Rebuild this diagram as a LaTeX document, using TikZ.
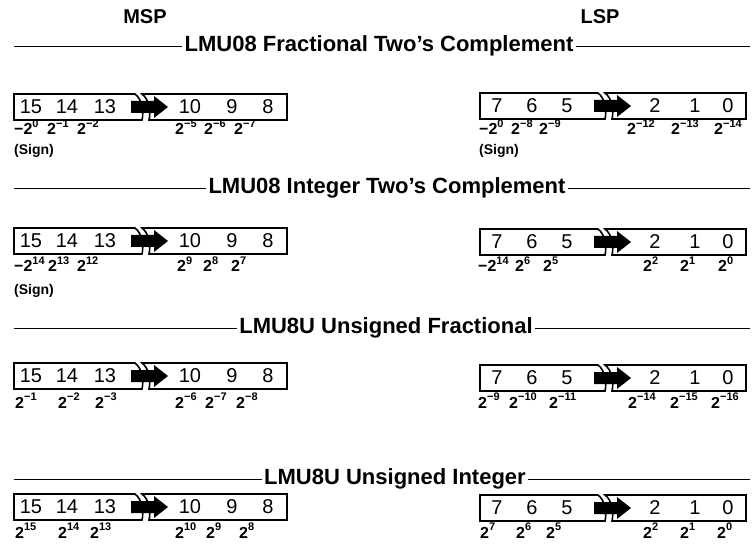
\documentclass[tikz,border=0pt]{standalone}
\usepackage{fontspec}
\setmainfont{Liberation Sans}

% power of two with raised exponent
\newcommand\pw[1]{2\raisebox{0.45em}{\fontsize{11}{11}\selectfont#1}}
% register outline: left, break, right, centre y
\newcommand\regbox[4]{%
  \draw[boxline] (#1,#4-13) -- (#2,#4-13) .. controls (#2+7,#4-8) and (#2+9,#4+5) .. (#2+7,#4+13) -- (#1,#4+13) -- cycle;
  \draw[boxline] (#3,#4-13) -- (#2+7,#4-13) .. controls (#2+14,#4-8) and (#2+16,#4+5) .. (#2+14,#4+13) -- (#3,#4+13) -- cycle;
  \fill (#2-4,#4-6) -- (#2+19,#4-6) -- (#2+19,#4-11) -- (#2+33,#4) -- (#2+19,#4+11) -- (#2+19,#4+6) -- (#2-4,#4+6) -- cycle;
}

\begin{document}
\begin{tikzpicture}[x=1pt, y=-1pt,
    bit/.style={font=\fontsize{20}{20}\selectfont, inner sep=0pt},
    wt/.style={font=\bfseries\fontsize{16}{16}\selectfont, anchor=base west, inner sep=0pt},
    sign/.style={font=\bfseries\fontsize{14}{14}\selectfont, anchor=base west, inner sep=0pt},
    head/.style={font=\bfseries\fontsize{20}{20}\selectfont, inner sep=2pt},
    title/.style={font=\bfseries\fontsize{22}{22}\selectfont, inner sep=2pt},
    rule/.style={line width=0.8pt},
    boxline/.style={line width=1.6pt},
    ]
    \useasboundingbox (0,0) rectangle (755,548);

    % Headers
    \node[head] (msp) at (145,17) {MSP};
    \node[head] (lsp) at (600,17) {LSP};

    % Section titles
    \node[title] (t1) at (379,46) {LMU08 Fractional Two's Complement};
    \node[title] (t2) at (387,188) {LMU08 Integer Two's Complement};
    \node[title] (t3) at (386,328) {LMU8U Unsigned Fractional};
    \node[title] (t4) at (395,479) {LMU8U Unsigned Integer};
    \foreach \t/\y in {1/46, 2/188, 3/328, 4/479} {
      \coordinate (l\t) at (14,\y);
      \coordinate (r\t) at (750,\y);
      \draw[rule] (l\t) -- (t\t.west);
      \draw[rule] (t\t.east) -- (r\t);
    }

    % Registers
    \foreach \r/\cy in {1/107, 2/241, 3/376, 4/507} {
      \regbox{14}{135}{287}{\cy}
      \foreach \d/\x in {15/31, 14/67, 13/105, 10/190, 9/232, 8/268}
        \node[bit] (m\r-\d) at (\x,\cy) {\d};
    }
    \foreach \r/\cy in {1/106, 2/242, 3/378, 4/508} {
      \regbox{480}{598}{746}{\cy}
      \foreach \d/\x in {7/497, 6/532, 5/567, 2/655, 1/695, 0/728}
        \node[bit] (l\r-\d) at (\x,\cy) {\d};
    }

    % Row 1: fractional two's complement
    \node[wt] (m1a) at (14,135) {−\pw{0}};
    \node[wt] (m1b) at (47,135) {\pw{−1}};
    \node[wt] (m1c) at (77,135) {\pw{−2}};
    \node[wt] (m1d) at (175,135) {\pw{−5}};
    \node[wt] (m1e) at (204,135) {\pw{−6}};
    \node[wt] (m1f) at (234,135) {\pw{−7}};
    \node[sign] (m1s) at (14,155) {(Sign)};
    \node[wt] (l1a) at (479,135) {−\pw{0}};
    \node[wt] (l1b) at (511,135) {\pw{−8}};
    \node[wt] (l1c) at (539,135) {\pw{−9}};
    \node[wt] (l1d) at (627,135) {\pw{−12}};
    \node[wt] (l1e) at (671,135) {\pw{−13}};
    \node[wt] (l1f) at (714,135) {\pw{−14}};
    \node[sign] (l1s) at (479,155) {(Sign)};

    % Row 2: integer two's complement
    \node[wt] (m2a) at (14,272) {−\pw{14}};
    \node[wt] (m2b) at (48,272) {\pw{13}};
    \node[wt] (m2c) at (77,272) {\pw{12}};
    \node[wt] (m2d) at (177,272) {\pw{9}};
    \node[wt] (m2e) at (203,272) {\pw{8}};
    \node[wt] (m2f) at (231,272) {\pw{7}};
    \node[sign] (m2s) at (14,294) {(Sign)};
    \node[wt] (l2a) at (478,272) {−\pw{14}};
    \node[wt] (l2b) at (515,272) {\pw{6}};
    \node[wt] (l2c) at (543,272) {\pw{5}};
    \node[wt] (l2d) at (643,272) {\pw{2}};
    \node[wt] (l2e) at (680,272) {\pw{1}};
    \node[wt] (l2f) at (718,272) {\pw{0}};

    % Row 3: unsigned fractional
    \node[wt] (m3a) at (15,408) {\pw{−1}};
    \node[wt] (m3b) at (58,408) {\pw{−2}};
    \node[wt] (m3c) at (95,408) {\pw{−3}};
    \node[wt] (m3d) at (175,408) {\pw{−6}};
    \node[wt] (m3e) at (205,408) {\pw{−7}};
    \node[wt] (m3f) at (236,408) {\pw{−8}};
    \node[wt] (l3a) at (478,408) {\pw{−9}};
    \node[wt] (l3b) at (509,408) {\pw{−10}};
    \node[wt] (l3c) at (549,408) {\pw{−11}};
    \node[wt] (l3d) at (628,408) {\pw{−14}};
    \node[wt] (l3e) at (670,408) {\pw{−15}};
    \node[wt] (l3f) at (711,408) {\pw{−16}};

    % Row 4: unsigned integer
    \node[wt] (m4a) at (15,538) {\pw{15}};
    \node[wt] (m4b) at (58,538) {\pw{14}};
    \node[wt] (m4c) at (90,538) {\pw{13}};
    \node[wt] (m4d) at (175,538) {\pw{10}};
    \node[wt] (m4e) at (206,538) {\pw{9}};
    \node[wt] (m4f) at (239,538) {\pw{8}};
    \node[wt] (l4a) at (480,538) {\pw{7}};
    \node[wt] (l4b) at (516,538) {\pw{6}};
    \node[wt] (l4c) at (546,538) {\pw{5}};
    \node[wt] (l4d) at (643,538) {\pw{2}};
    \node[wt] (l4e) at (680,538) {\pw{1}};
    \node[wt] (l4f) at (717,538) {\pw{0}};
  \end{tikzpicture}
\end{document}
